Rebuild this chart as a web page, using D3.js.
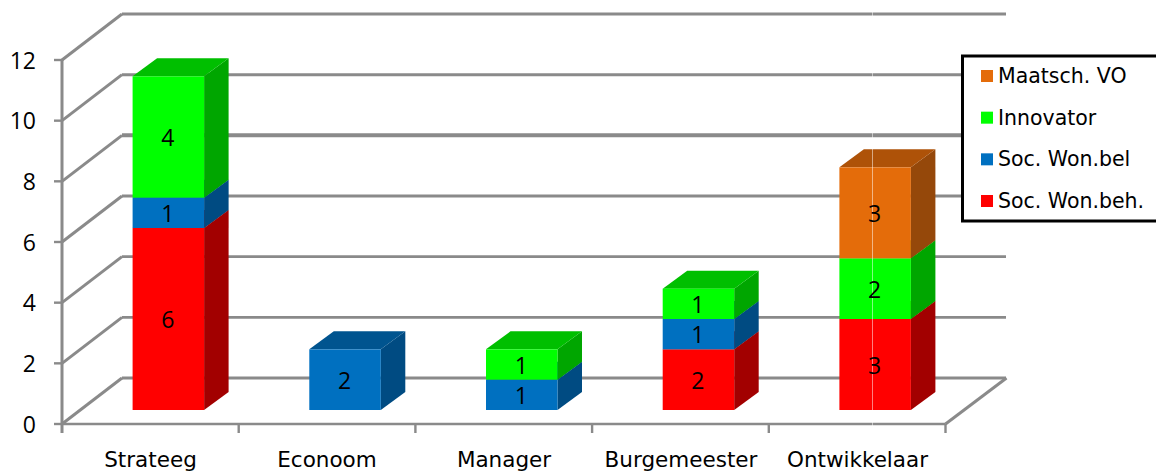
<!DOCTYPE html>
<html>
<head>
<meta charset="utf-8">
<script src="https://cdn.jsdelivr.net/npm/d3@7/dist/d3.min.js"></script>
<style>
html,body{margin:0;padding:0;background:#fff;overflow:hidden}
svg{display:block}
</style>
</head>
<body>
<svg id="chart" width="1156" height="471"></svg>
<script>
const categories = ["Strateeg", "Econoom", "Manager", "Burgemeester", "Ontwikkelaar"];
const seriesNames = ["Soc. Won.beh.", "Soc. Won.bel", "Innovator", "Maatsch. VO"];
const socWonBeh = [6, 0, 0, 2, 3];
const socWonBel = [1, 2, 1, 1, 0];
const innovator = [4, 0, 1, 1, 2];
const maatschVO = [0, 0, 0, 0, 3];
const yTicks = [0, 2, 4, 6, 8, 10, 12];
const faceColors = ["#ff0000", "#0070c0", "#00ff00", "#e46c0a"];
const sideColors = ["#a20000", "#004b82", "#00a600", "#95480a"];
const topColors = ["#bf0000", "#00548f", "#00bf00", "#ae5208"];

const svg = d3.select("#chart");
const rows = categories.map((c, i) => ({
  category: c,
  [seriesNames[0]]: socWonBeh[i],
  [seriesNames[1]]: socWonBel[i],
  [seriesNames[2]]: innovator[i],
  [seriesNames[3]]: maatschVO[i]
}));
const stacked = d3.stack().keys(seriesNames)(rows);

// Front plane of the 3D box
const x = d3.scaleBand().domain(categories).range([62, 945.5]).padding(0);
const y = d3.scaleLinear().domain([0, 12]).range([424, 60]);
// Oblique projection offset for the back of the box
const depthX = 60, depthY = -46;
const gray = "#8a8a8a";

// Back wall gridlines and the matching lines on the side wall
const grid = svg.append("g").attr("fill", "none").attr("stroke", gray);
const backWidth = t => (t === 8 ? 4 : t === 12 || t === 10 ? 3 : 2.8);
yTicks.forEach(t => {
  grid.append("line")
    .attr("x1", x.range()[0] + depthX).attr("x2", x.range()[1] + depthX + 0.5)
    .attr("y1", y(t) + depthY).attr("y2", y(t) + depthY)
    .attr("stroke-width", backWidth(t));
  grid.append("line")
    .attr("x1", x.range()[0]).attr("x2", x.range()[0] + depthX)
    .attr("y1", y(t)).attr("y2", y(t) + depthY)
    .attr("stroke-width", 3);
});
// Floor edges: front edge is the x axis, right edge closes the floor
grid.append("line")
  .attr("x1", x.range()[1]).attr("x2", x.range()[1] + depthX + 1)
  .attr("y1", y(0)).attr("y2", y(0) + depthY)
  .attr("stroke-width", 3);
grid.append("line")
  .attr("x1", x.range()[0]).attr("x2", x.range()[1])
  .attr("y1", y(0)).attr("y2", y(0))
  .attr("stroke-width", 2.6);

// Value axis and tick marks
grid.append("line")
  .attr("x1", x.range()[0]).attr("x2", x.range()[0])
  .attr("y1", y(12) - 1).attr("y2", y(0) + 9)
  .attr("stroke-width", 3);
yTicks.forEach(t => {
  grid.append("line").attr("x1", 54).attr("x2", 62)
    .attr("y1", y(t)).attr("y2", y(t)).attr("stroke-width", 2.4);
});
categories.forEach(c => {
  const xe = x(c) + x.bandwidth();
  grid.append("line").attr("x1", xe).attr("x2", xe)
    .attr("y1", y(0)).attr("y2", y(0) + 9).attr("stroke-width", 2.4);
});

// Stacked 3D bars: each block is a front face, a side face and a top face
const barShiftX = 18, barShiftY = -14;
const barWidth = 71.5, barDepthX = 24.5, barDepthY = -18;
const poly = pts => pts.map(p => p.join(",")).join(" ");
const labels = [];
const bars = svg.append("g");
stacked.forEach((layer, si) => {
  layer.forEach((d, ci) => {
    const v = d[1] - d[0];
    if (v <= 0) return;
    const cx = x(categories[ci]) + x.bandwidth() / 2 + barShiftX;
    const xl = cx - barWidth / 2, xr = cx + barWidth / 2;
    const yt = y(d[1]) + barShiftY, yb = y(d[0]) + barShiftY;
    bars.append("polygon").attr("fill", sideColors[si]).attr("points", poly([
      [xr, yt], [xr + barDepthX, yt + barDepthY], [xr + barDepthX, yb + barDepthY], [xr, yb]
    ]));
    bars.append("polygon").attr("fill", topColors[si]).attr("points", poly([
      [xl, yt], [xl + barDepthX, yt + barDepthY], [xr + barDepthX, yt + barDepthY], [xr, yt]
    ]));
    bars.append("rect").attr("fill", faceColors[si])
      .attr("x", xl).attr("y", yt).attr("width", barWidth).attr("height", yb - yt);
    labels.push({ v, x: cx, y: (yt + yb) / 2 });
  });
});

// Thin pale seam running down through the last category
svg.append("line").attr("x1", 872.5).attr("x2", 872.5).attr("y1", 12).attr("y2", 426)
  .attr("stroke", "#ffffff").attr("stroke-opacity", 0.5).attr("stroke-width", 1);

// Value labels on the bar blocks
svg.append("g").selectAll("text").data(labels).join("text")
  .attr("x", d => d.x - 0.5).attr("y", d => d.y + 9)
  .attr("text-anchor", "middle")
  .attr("font-family", "'Open Sans', sans-serif").attr("font-size", 23)
  .attr("fill", "#000").text(d => d.v);

// Value axis labels
svg.append("g").selectAll("text").data(yTicks).join("text")
  .attr("x", 36).attr("y", d => y(d) + 8.5)
  .attr("text-anchor", "end")
  .attr("font-family", "'Open Sans', sans-serif").attr("font-size", 23)
  .attr("fill", "#000").text(d => d);

// Category labels
svg.append("g").selectAll("text").data(categories).join("text")
  .attr("x", (d, i) => [150.5, 327, 504, 681, 857.5][i]).attr("y", 467)
  .attr("text-anchor", "middle")
  .attr("font-family", "'DejaVu Sans', sans-serif").attr("font-size", 21.5)
  .attr("fill", "#000").text(d => d);

// Legend, listed top-down in reverse stacking order
const legend = svg.append("g");
legend.append("rect").attr("x", 962.5).attr("y", 56).attr("width", 200).attr("height", 165)
  .attr("fill", "#fff").attr("stroke", "#000").attr("stroke-width", 3);
const legendY = d3.scalePoint().domain(seriesNames.slice().reverse()).range([76, 201]);
seriesNames.forEach((name, i) => {
  legend.append("rect").attr("x", 981).attr("y", legendY(name) - 6)
    .attr("width", 12).attr("height", 12).attr("fill", faceColors[i]);
  legend.append("text").attr("x", 998).attr("y", legendY(name) + 7)
    .attr("font-family", "'DejaVu Sans', sans-serif").attr("font-size", 20.5)
    .attr("fill", "#000").text(name);
});
</script>
</body>
</html>
